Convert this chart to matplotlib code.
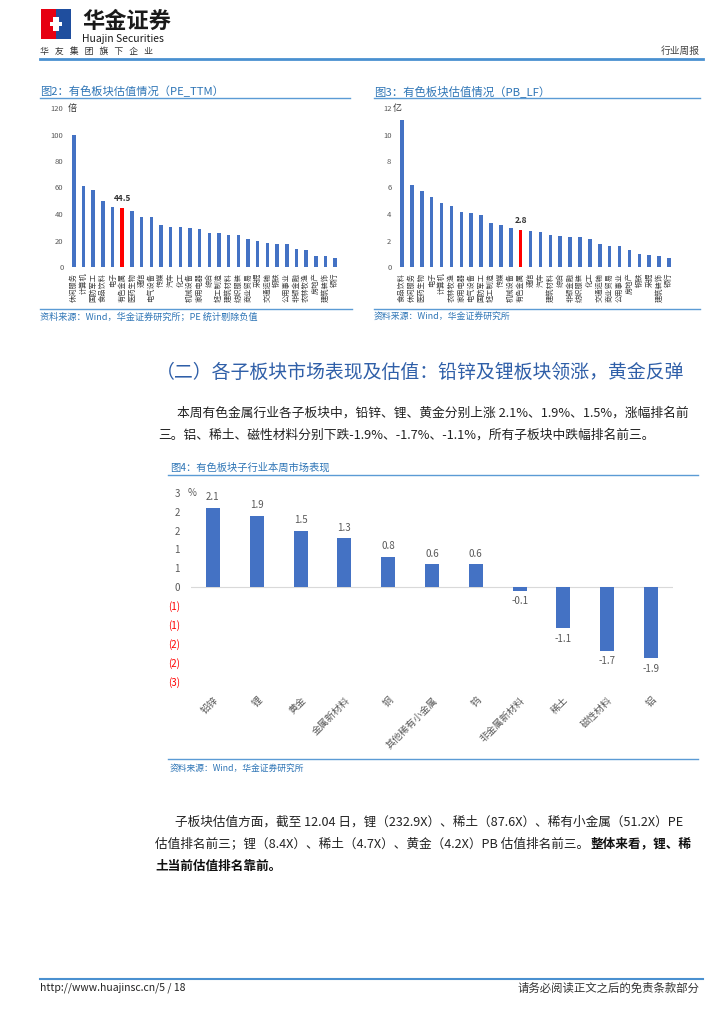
import matplotlib
matplotlib.use("Agg")
import matplotlib.pyplot as plt
from matplotlib.lines import Line2D
from matplotlib.patches import Rectangle

plt.rcParams["font.family"] = ["Noto Sans CJK SC", "DejaVu Sans"]

W, H = 724, 1024

# 图2 PE_TTM
pe_names = ["休闲服务", "计算机", "国防军工", "食品饮料", "电子", "有色金属", "医药生物",
            "通信", "电气设备", "传媒", "汽车", "化工", "机械设备", "家用电器",
            "综合", "轻工制造", "建筑材料", "纺织服装", "商业贸易", "采掘", "交通运输",
            "钢铁", "公用事业", "非银金融", "农林牧渔", "房地产", "建筑装饰", "银行"]
pe_values = [100.0, 61.0, 58.0, 50.0, 45.5, 44.5, 42.0, 38.0, 37.5, 31.5, 30.5, 30.0,
             29.5, 29.0, 26.0, 25.8, 24.5, 24.0, 21.5, 20.0, 18.0, 17.5, 17.0, 13.5,
             13.0, 8.5, 8.0, 7.0]

# 图3 PB_LF
pb_names = ["食品饮料", "休闲服务", "医药生物", "电子", "计算机", "农林牧渔", "家用电器",
            "电气设备", "国防军工", "轻工制造", "传媒", "机械设备", "有色金属", "通信",
            "汽车", "建筑材料", "综合", "非银金融", "纺织服装", "化工", "交通运输",
            "商业贸易", "公用事业", "房地产", "钢铁", "采掘", "建筑装饰", "银行"]
pb_values = [11.1, 6.2, 5.7, 5.3, 4.8, 4.6, 4.15, 4.05, 3.9, 3.3, 3.2, 2.95, 2.8, 2.75,
             2.65, 2.4, 2.35, 2.3, 2.3, 2.15, 1.7, 1.6, 1.55, 1.25, 1.0, 0.9, 0.85, 0.7]

# 图4 子行业周涨跌幅 (%)
sub_names = ["铅锌", "锂", "黄金", "金属新材料", "铜", "其他稀有小金属", "钨",
             "非金属新材料", "稀土", "磁性材料", "铝"]
sub_changes = [2.1, 1.9, 1.5, 1.3, 0.8, 0.6, 0.6, -0.1, -1.1, -1.7, -1.9]
sub_ticks = [-2.5, -2.0, -1.5, -1.0, -0.5, 0.0, 0.5, 1.0, 1.5, 2.0, 2.5]
sub_tick_labels = ["(3)", "(2)", "(2)", "(1)", "(1)", "0", "1", "1", "2", "2", "3"]

BAR_BLUE = "#4472C4"
TITLE_BLUE = "#2E75B6"
LINE_BLUE = "#5B9BD5"
GRAY = "#595959"

fig = plt.figure(figsize=(W / 100, H / 100), dpi=100)
renderer = fig.canvas.get_renderer()


def put(x, y, s, **kw):
    kw.setdefault("va", "center")
    return fig.text(x / W, 1 - y / H, s, **kw)


def put_runs(x, y, runs, **kw):
    # place text pieces one after another on the same line
    for s, extra in runs:
        t = put(x, y, s, **{**kw, **extra})
        x = t.get_window_extent(renderer).x1 + 1


def hline(x0, x1, y, color=LINE_BLUE, lw=1.0):
    fig.add_artist(Line2D([x0 / W, x1 / W], [1 - y / H] * 2,
                          transform=fig.transFigure, color=color, lw=lw))


def box(x0, y0, x1, y1, color):
    fig.add_artist(Rectangle((x0 / W, 1 - y1 / H), (x1 - x0) / W, (y1 - y0) / H,
                             transform=fig.transFigure, color=color, lw=0))


def axes_px(left, top, right, bottom):
    return fig.add_axes([left / W, 1 - bottom / H, (right - left) / W, (bottom - top) / H])


# header
box(41, 9, 56, 39, "#E60012")
box(56, 9, 71, 39, "#1F4E9E")
box(53, 17, 59, 31, "white")
box(50, 22, 53, 26, "white")
box(59, 22, 62, 26, "white")
put(82, 21, "华金证券", fontsize=16, weight="bold", color="#1a1a1a")
put(82, 39, "Huajin Securities", fontsize=7.5, color="#1a1a1a")
put(40, 51, "华   友   集   团   旗   下   企   业", fontsize=6.4, color="#333333")
put(700, 51, "行业周报", fontsize=7, color="#444444", ha="right")
hline(40, 703, 59, color="#4A90D0", lw=2)


def valuation_chart(ax, names, values, highlight, top_label, unit, label_text, lx, ly):
    xs = range(len(values))
    colors = ["#FF0000" if n == highlight else BAR_BLUE for n in names]
    ax.bar(xs, values, width=0.36, color=colors)
    ax.set_xlim(-0.5, len(values) - 0.5)
    ax.set_ylim(0, top_label)
    step = top_label / 6
    ax.set_yticks([step * i for i in range(7)])
    ax.set_yticklabels([f"{step * i:.0f}" for i in range(7)], fontsize=5.5, color=GRAY)
    ax.set_xticks(list(xs))
    ax.set_xticklabels(names, rotation=90, fontsize=5.2, color="#404040", va="top")
    ax.tick_params(length=0, pad=4)
    for s in ax.spines.values():
        s.set_visible(False)
    idx = names.index(highlight)
    ax.text(idx, values[idx] + top_label * 0.03, label_text, ha="center", va="bottom",
            fontsize=6, weight="bold", color="#333333")
    put(lx, ly, unit, fontsize=6.5, color="#333333")


# 图2
put(40, 91, "图2：有色板块估值情况（PE_TTM）", fontsize=8.1, color=TITLE_BLUE)
hline(40, 350, 98)
ax2 = axes_px(69, 108, 340, 267)
valuation_chart(ax2, pe_names, pe_values, "有色金属", 120, "倍", "44.5", 68, 108)
hline(40, 352, 309)
put(40, 317, "资料来源：Wind，华金证券研究所；PE 统计剔除负值", fontsize=6.6,
    color=TITLE_BLUE, style="italic")

# 图3
put(374, 91, "图3：有色板块估值情况（PB_LF）", fontsize=8.2, color=TITLE_BLUE)
hline(374, 700, 98)
ax3 = axes_px(397, 108, 674, 267)
valuation_chart(ax3, pb_names, pb_values, "有色金属", 12, "亿", "2.8", 393, 108)
hline(374, 700, 309)
put(374, 317, "资料来源：Wind，华金证券研究所", fontsize=6.4, color=TITLE_BLUE, style="italic")

# section heading and text
put(156, 372, "（二）各子板块市场表现及估值：铅锌及锂板块领涨，黄金反弹", fontsize=13.6,
    color="#2F5FA8")
put(177, 413, "本周有色金属行业各子板块中，铅锌、锂、黄金分别上涨 2.1%、1.9%、1.5%，涨幅排名前",
    fontsize=9.2, color="#222222")
put(158, 435, "三。铝、稀土、磁性材料分别下跌-1.9%、-1.7%、-1.1%，所有子板块中跌幅排名前三。",
    fontsize=9.2, color="#222222")

# 图4
put(170, 468, "图4：有色板块子行业本周市场表现", fontsize=7.4, color=TITLE_BLUE)
hline(168, 698, 475)
ax4 = axes_px(191, 493, 673, 681)
xs4 = range(len(sub_changes))
ax4.bar(xs4, sub_changes, width=0.32, color=BAR_BLUE)
ax4.axhline(0, color="#D9D9D9", lw=0.8, zorder=0)
ax4.set_xlim(-0.5, len(sub_changes) - 0.5)
ax4.set_ylim(-2.5, 2.5)
ax4.set_yticks(sub_ticks)
ax4.set_yticklabels(sub_tick_labels, fontsize=7, color=GRAY)
for lab, v in zip(ax4.get_yticklabels(), sub_ticks):
    if v < 0:
        lab.set_color("#FF0000")
ax4.set_xticks(list(xs4))
ax4.set_xticklabels(sub_names, rotation=45, ha="right", va="top", rotation_mode="anchor",
                    fontsize=7, color=GRAY)
ax4.tick_params(axis="y", length=0, pad=8)
ax4.tick_params(axis="x", length=0, pad=10)
for s in ax4.spines.values():
    s.set_visible(False)
for x, v in zip(xs4, sub_changes):
    off = 4 if v >= 0 else -4
    ax4.annotate(f"{v:.1f}", (x, v), xytext=(0, off), textcoords="offset points",
                 ha="center", va="bottom" if v >= 0 else "top", fontsize=7, color=GRAY)
put(188, 493, "%", fontsize=7, color=GRAY)
hline(168, 698, 759)
put(170, 768, "资料来源：Wind，华金证券研究所", fontsize=6.3, color=TITLE_BLUE, style="italic")

# second paragraph
put(175, 822, "子板块估值方面，截至 12.04 日，锂（232.9X）、稀土（87.6X）、稀有小金属（51.2X）PE",
    fontsize=9.1, color="#222222")
put_runs(155, 844, [("估值排名前三；锂（8.4X）、稀土（4.7X）、黄金（4.2X）PB 估值排名前三。", {}),
                    ("整体来看，锂、稀", {"weight": "bold", "color": "#111111"})],
         fontsize=9.1, color="#222222")
put(155, 866, "土当前估值排名靠前。", fontsize=9.1, color="#111111", weight="bold")

# footer
hline(40, 703, 979, color="#4A90D0", lw=1.5)
put(40, 988, "http://www.huajinsc.cn/5 / 18", fontsize=7.5, color="#222222")
put(700, 988, "请务必阅读正文之后的免责条款部分", fontsize=8.2, color="#333333", ha="right")

fig.savefig("out.png", dpi=100)
